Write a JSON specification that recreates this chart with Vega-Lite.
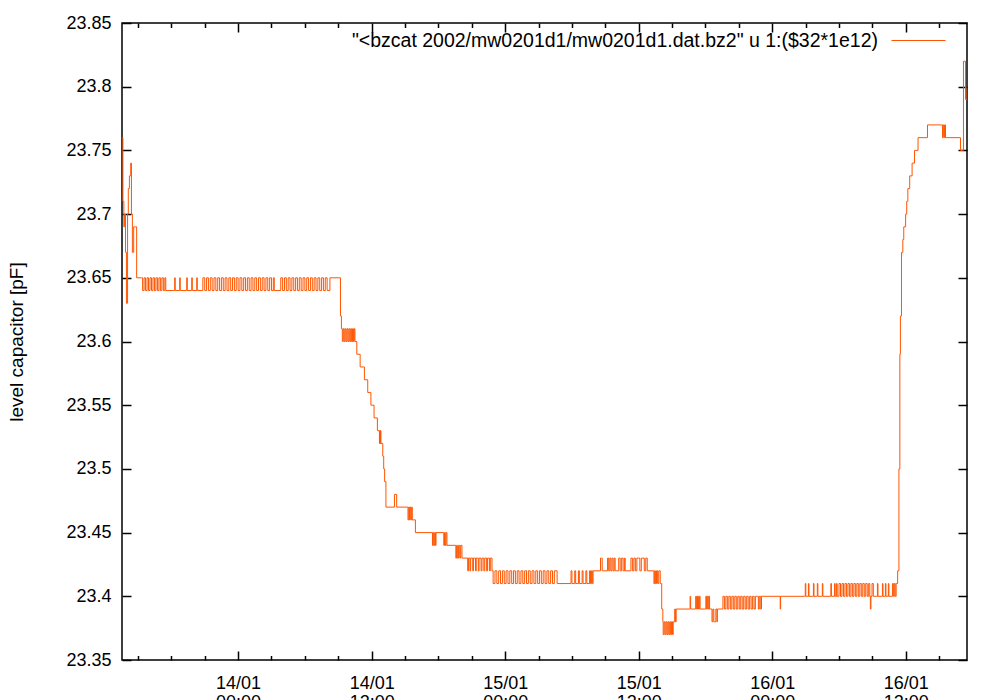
{
  "$schema": "https://vega.github.io/schema/vega-lite/v6.json",
  "width": 845,
  "height": 637,
  "autosize": {"type": "none"},
  "padding": {"left": 122, "top": 23, "right": 33, "bottom": 40},
  "background": "white",
  "config": {
    "view": {"stroke": "black", "strokeWidth": 1.5},
    "font": "Liberation Sans",
    "axis": {
      "grid": false,
      "domain": false,
      "tickColor": "black",
      "tickWidth": 1.5,
      "labelFont": "Liberation Sans",
      "labelFontSize": 18,
      "labelColor": "black",
      "titleFont": "Liberation Sans",
      "titleFontSize": 19,
      "titleFontWeight": "normal",
      "titleColor": "black"
    },
    "legend": {
      "labelFont": "Liberation Sans",
      "labelFontSize": 19.5,
      "labelColor": "black"
    }
  },
  "data": {
    "values": [
      {"t": "2002-01-13T13:35", "v": 23.76},
      {"t": "2002-01-13T13:39", "v": 23.71},
      {"t": "2002-01-13T13:44", "v": 23.69},
      {"t": "2002-01-13T13:48", "v": 23.70},
      {"t": "2002-01-13T13:53", "v": 23.67},
      {"t": "2002-01-13T13:58", "v": 23.63},
      {"t": "2002-01-13T14:04", "v": 23.70},
      {"t": "2002-01-13T14:08", "v": 23.72},
      {"t": "2002-01-13T14:14", "v": 23.73},
      {"t": "2002-01-13T14:21", "v": 23.74},
      {"t": "2002-01-13T14:25", "v": 23.70},
      {"t": "2002-01-13T14:30", "v": 23.67},
      {"t": "2002-01-13T14:37", "v": 23.69},
      {"t": "2002-01-13T14:47", "v": 23.69},
      {"t": "2002-01-13T14:53", "v": 23.65},
      {"t": "2002-01-13T15:20", "v": 23.65},
      {"t": "2002-01-13T15:25", "v": 23.64},
      {"t": "2002-01-13T15:33", "v": 23.65},
      {"t": "2002-01-13T15:41", "v": 23.64},
      {"t": "2002-01-13T15:49", "v": 23.65},
      {"t": "2002-01-13T15:57", "v": 23.64},
      {"t": "2002-01-13T16:05", "v": 23.65},
      {"t": "2002-01-13T16:13", "v": 23.64},
      {"t": "2002-01-13T16:21", "v": 23.65},
      {"t": "2002-01-13T16:29", "v": 23.64},
      {"t": "2002-01-13T16:37", "v": 23.65},
      {"t": "2002-01-13T16:45", "v": 23.64},
      {"t": "2002-01-13T16:53", "v": 23.65},
      {"t": "2002-01-13T17:01", "v": 23.64},
      {"t": "2002-01-13T17:09", "v": 23.65},
      {"t": "2002-01-13T17:17", "v": 23.64},
      {"t": "2002-01-13T17:25", "v": 23.65},
      {"t": "2002-01-13T17:30", "v": 23.64},
      {"t": "2002-01-13T18:15", "v": 23.64},
      {"t": "2002-01-13T18:18", "v": 23.65},
      {"t": "2002-01-13T18:21", "v": 23.64},
      {"t": "2002-01-13T18:42", "v": 23.64},
      {"t": "2002-01-13T18:45", "v": 23.65},
      {"t": "2002-01-13T18:48", "v": 23.64},
      {"t": "2002-01-13T19:20", "v": 23.64},
      {"t": "2002-01-13T19:23", "v": 23.65},
      {"t": "2002-01-13T19:26", "v": 23.64},
      {"t": "2002-01-13T19:47", "v": 23.64},
      {"t": "2002-01-13T19:50", "v": 23.65},
      {"t": "2002-01-13T19:53", "v": 23.64},
      {"t": "2002-01-13T20:14", "v": 23.64},
      {"t": "2002-01-13T20:17", "v": 23.65},
      {"t": "2002-01-13T20:20", "v": 23.64},
      {"t": "2002-01-13T20:45", "v": 23.64},
      {"t": "2002-01-13T20:50", "v": 23.65},
      {"t": "2002-01-13T21:00", "v": 23.64},
      {"t": "2002-01-13T21:10", "v": 23.65},
      {"t": "2002-01-13T21:20", "v": 23.64},
      {"t": "2002-01-13T21:30", "v": 23.65},
      {"t": "2002-01-13T21:40", "v": 23.64},
      {"t": "2002-01-13T21:50", "v": 23.65},
      {"t": "2002-01-13T22:00", "v": 23.64},
      {"t": "2002-01-13T22:10", "v": 23.65},
      {"t": "2002-01-13T22:20", "v": 23.64},
      {"t": "2002-01-13T22:30", "v": 23.65},
      {"t": "2002-01-13T22:40", "v": 23.64},
      {"t": "2002-01-13T22:50", "v": 23.65},
      {"t": "2002-01-13T23:00", "v": 23.64},
      {"t": "2002-01-13T23:10", "v": 23.65},
      {"t": "2002-01-13T23:20", "v": 23.64},
      {"t": "2002-01-13T23:30", "v": 23.65},
      {"t": "2002-01-13T23:40", "v": 23.64},
      {"t": "2002-01-13T23:50", "v": 23.65},
      {"t": "2002-01-14T00:00", "v": 23.64},
      {"t": "2002-01-14T00:10", "v": 23.65},
      {"t": "2002-01-14T00:20", "v": 23.64},
      {"t": "2002-01-14T00:30", "v": 23.65},
      {"t": "2002-01-14T00:40", "v": 23.64},
      {"t": "2002-01-14T00:50", "v": 23.65},
      {"t": "2002-01-14T01:00", "v": 23.64},
      {"t": "2002-01-14T01:10", "v": 23.65},
      {"t": "2002-01-14T01:20", "v": 23.64},
      {"t": "2002-01-14T01:30", "v": 23.65},
      {"t": "2002-01-14T01:40", "v": 23.64},
      {"t": "2002-01-14T01:50", "v": 23.65},
      {"t": "2002-01-14T02:00", "v": 23.64},
      {"t": "2002-01-14T02:10", "v": 23.65},
      {"t": "2002-01-14T02:20", "v": 23.64},
      {"t": "2002-01-14T02:30", "v": 23.65},
      {"t": "2002-01-14T02:40", "v": 23.64},
      {"t": "2002-01-14T02:50", "v": 23.65},
      {"t": "2002-01-14T03:00", "v": 23.64},
      {"t": "2002-01-14T03:10", "v": 23.65},
      {"t": "2002-01-14T03:15", "v": 23.64},
      {"t": "2002-01-14T03:40", "v": 23.64},
      {"t": "2002-01-14T03:50", "v": 23.65},
      {"t": "2002-01-14T04:00", "v": 23.64},
      {"t": "2002-01-14T04:10", "v": 23.65},
      {"t": "2002-01-14T04:20", "v": 23.64},
      {"t": "2002-01-14T04:30", "v": 23.65},
      {"t": "2002-01-14T04:40", "v": 23.64},
      {"t": "2002-01-14T04:50", "v": 23.65},
      {"t": "2002-01-14T05:00", "v": 23.64},
      {"t": "2002-01-14T05:10", "v": 23.65},
      {"t": "2002-01-14T05:20", "v": 23.64},
      {"t": "2002-01-14T05:30", "v": 23.65},
      {"t": "2002-01-14T05:40", "v": 23.64},
      {"t": "2002-01-14T05:50", "v": 23.65},
      {"t": "2002-01-14T06:00", "v": 23.64},
      {"t": "2002-01-14T06:10", "v": 23.65},
      {"t": "2002-01-14T06:20", "v": 23.64},
      {"t": "2002-01-14T06:30", "v": 23.65},
      {"t": "2002-01-14T06:40", "v": 23.64},
      {"t": "2002-01-14T06:50", "v": 23.65},
      {"t": "2002-01-14T07:00", "v": 23.64},
      {"t": "2002-01-14T07:10", "v": 23.65},
      {"t": "2002-01-14T07:20", "v": 23.64},
      {"t": "2002-01-14T07:30", "v": 23.65},
      {"t": "2002-01-14T07:40", "v": 23.64},
      {"t": "2002-01-14T07:50", "v": 23.65},
      {"t": "2002-01-14T08:00", "v": 23.64},
      {"t": "2002-01-14T08:10", "v": 23.64},
      {"t": "2002-01-14T08:15", "v": 23.65},
      {"t": "2002-01-14T09:03", "v": 23.65},
      {"t": "2002-01-14T09:12", "v": 23.62},
      {"t": "2002-01-14T09:17", "v": 23.61},
      {"t": "2002-01-14T09:22", "v": 23.60},
      {"t": "2002-01-14T09:27", "v": 23.61},
      {"t": "2002-01-14T09:32", "v": 23.60},
      {"t": "2002-01-14T09:37", "v": 23.61},
      {"t": "2002-01-14T09:42", "v": 23.60},
      {"t": "2002-01-14T09:47", "v": 23.61},
      {"t": "2002-01-14T09:52", "v": 23.60},
      {"t": "2002-01-14T09:57", "v": 23.61},
      {"t": "2002-01-14T10:02", "v": 23.60},
      {"t": "2002-01-14T10:07", "v": 23.61},
      {"t": "2002-01-14T10:12", "v": 23.60},
      {"t": "2002-01-14T10:17", "v": 23.61},
      {"t": "2002-01-14T10:22", "v": 23.60},
      {"t": "2002-01-14T10:26", "v": 23.61},
      {"t": "2002-01-14T10:30", "v": 23.60},
      {"t": "2002-01-14T10:39", "v": 23.60},
      {"t": "2002-01-14T10:40", "v": 23.59},
      {"t": "2002-01-14T10:57", "v": 23.59},
      {"t": "2002-01-14T10:58", "v": 23.58},
      {"t": "2002-01-14T11:20", "v": 23.58},
      {"t": "2002-01-14T11:21", "v": 23.57},
      {"t": "2002-01-14T11:38", "v": 23.57},
      {"t": "2002-01-14T11:39", "v": 23.56},
      {"t": "2002-01-14T11:55", "v": 23.56},
      {"t": "2002-01-14T11:56", "v": 23.55},
      {"t": "2002-01-14T12:12", "v": 23.55},
      {"t": "2002-01-14T12:13", "v": 23.54},
      {"t": "2002-01-14T12:30", "v": 23.54},
      {"t": "2002-01-14T12:31", "v": 23.53},
      {"t": "2002-01-14T12:40", "v": 23.53},
      {"t": "2002-01-14T12:42", "v": 23.52},
      {"t": "2002-01-14T12:44", "v": 23.53},
      {"t": "2002-01-14T12:46", "v": 23.52},
      {"t": "2002-01-14T12:48", "v": 23.53},
      {"t": "2002-01-14T12:50", "v": 23.52},
      {"t": "2002-01-14T13:00", "v": 23.51},
      {"t": "2002-01-14T13:05", "v": 23.50},
      {"t": "2002-01-14T13:10", "v": 23.49},
      {"t": "2002-01-14T13:17", "v": 23.47},
      {"t": "2002-01-14T14:02", "v": 23.47},
      {"t": "2002-01-14T14:03", "v": 23.48},
      {"t": "2002-01-14T14:14", "v": 23.48},
      {"t": "2002-01-14T14:15", "v": 23.47},
      {"t": "2002-01-14T15:12", "v": 23.47},
      {"t": "2002-01-14T15:16", "v": 23.46},
      {"t": "2002-01-14T15:20", "v": 23.47},
      {"t": "2002-01-14T15:24", "v": 23.46},
      {"t": "2002-01-14T15:28", "v": 23.47},
      {"t": "2002-01-14T15:32", "v": 23.46},
      {"t": "2002-01-14T15:36", "v": 23.47},
      {"t": "2002-01-14T15:39", "v": 23.46},
      {"t": "2002-01-14T15:55", "v": 23.46},
      {"t": "2002-01-14T15:56", "v": 23.45},
      {"t": "2002-01-14T17:25", "v": 23.45},
      {"t": "2002-01-14T17:28", "v": 23.44},
      {"t": "2002-01-14T17:32", "v": 23.45},
      {"t": "2002-01-14T17:36", "v": 23.44},
      {"t": "2002-01-14T17:40", "v": 23.45},
      {"t": "2002-01-14T17:44", "v": 23.44},
      {"t": "2002-01-14T17:47", "v": 23.45},
      {"t": "2002-01-14T18:25", "v": 23.45},
      {"t": "2002-01-14T18:29", "v": 23.44},
      {"t": "2002-01-14T18:33", "v": 23.45},
      {"t": "2002-01-14T18:37", "v": 23.44},
      {"t": "2002-01-14T18:41", "v": 23.45},
      {"t": "2002-01-14T18:46", "v": 23.44},
      {"t": "2002-01-14T19:30", "v": 23.44},
      {"t": "2002-01-14T19:34", "v": 23.43},
      {"t": "2002-01-14T19:38", "v": 23.44},
      {"t": "2002-01-14T19:42", "v": 23.43},
      {"t": "2002-01-14T19:48", "v": 23.44},
      {"t": "2002-01-14T19:55", "v": 23.43},
      {"t": "2002-01-14T20:00", "v": 23.44},
      {"t": "2002-01-14T20:07", "v": 23.43},
      {"t": "2002-01-14T20:34", "v": 23.43},
      {"t": "2002-01-14T20:38", "v": 23.42},
      {"t": "2002-01-14T20:42", "v": 23.43},
      {"t": "2002-01-14T20:50", "v": 23.42},
      {"t": "2002-01-14T20:54", "v": 23.43},
      {"t": "2002-01-14T21:05", "v": 23.42},
      {"t": "2002-01-14T21:09", "v": 23.43},
      {"t": "2002-01-14T21:20", "v": 23.42},
      {"t": "2002-01-14T21:24", "v": 23.43},
      {"t": "2002-01-14T21:35", "v": 23.42},
      {"t": "2002-01-14T21:39", "v": 23.43},
      {"t": "2002-01-14T21:50", "v": 23.42},
      {"t": "2002-01-14T21:55", "v": 23.43},
      {"t": "2002-01-14T22:05", "v": 23.42},
      {"t": "2002-01-14T22:10", "v": 23.43},
      {"t": "2002-01-14T22:20", "v": 23.42},
      {"t": "2002-01-14T22:25", "v": 23.43},
      {"t": "2002-01-14T22:35", "v": 23.42},
      {"t": "2002-01-14T22:40", "v": 23.43},
      {"t": "2002-01-14T22:49", "v": 23.42},
      {"t": "2002-01-14T22:55", "v": 23.41},
      {"t": "2002-01-14T23:05", "v": 23.42},
      {"t": "2002-01-14T23:15", "v": 23.41},
      {"t": "2002-01-14T23:25", "v": 23.42},
      {"t": "2002-01-14T23:35", "v": 23.41},
      {"t": "2002-01-14T23:45", "v": 23.42},
      {"t": "2002-01-14T23:55", "v": 23.41},
      {"t": "2002-01-15T00:05", "v": 23.42},
      {"t": "2002-01-15T00:15", "v": 23.41},
      {"t": "2002-01-15T00:25", "v": 23.42},
      {"t": "2002-01-15T00:35", "v": 23.41},
      {"t": "2002-01-15T00:45", "v": 23.42},
      {"t": "2002-01-15T00:55", "v": 23.41},
      {"t": "2002-01-15T01:05", "v": 23.42},
      {"t": "2002-01-15T01:15", "v": 23.41},
      {"t": "2002-01-15T01:25", "v": 23.42},
      {"t": "2002-01-15T01:35", "v": 23.41},
      {"t": "2002-01-15T01:45", "v": 23.42},
      {"t": "2002-01-15T01:55", "v": 23.41},
      {"t": "2002-01-15T02:05", "v": 23.42},
      {"t": "2002-01-15T02:15", "v": 23.41},
      {"t": "2002-01-15T02:25", "v": 23.42},
      {"t": "2002-01-15T02:35", "v": 23.41},
      {"t": "2002-01-15T02:45", "v": 23.42},
      {"t": "2002-01-15T02:55", "v": 23.41},
      {"t": "2002-01-15T03:05", "v": 23.42},
      {"t": "2002-01-15T03:15", "v": 23.41},
      {"t": "2002-01-15T03:25", "v": 23.42},
      {"t": "2002-01-15T03:35", "v": 23.41},
      {"t": "2002-01-15T03:45", "v": 23.42},
      {"t": "2002-01-15T03:55", "v": 23.41},
      {"t": "2002-01-15T04:05", "v": 23.42},
      {"t": "2002-01-15T04:15", "v": 23.41},
      {"t": "2002-01-15T04:25", "v": 23.42},
      {"t": "2002-01-15T04:40", "v": 23.41},
      {"t": "2002-01-15T05:50", "v": 23.41},
      {"t": "2002-01-15T05:55", "v": 23.42},
      {"t": "2002-01-15T06:00", "v": 23.41},
      {"t": "2002-01-15T06:15", "v": 23.42},
      {"t": "2002-01-15T06:20", "v": 23.41},
      {"t": "2002-01-15T06:35", "v": 23.42},
      {"t": "2002-01-15T06:40", "v": 23.41},
      {"t": "2002-01-15T06:55", "v": 23.42},
      {"t": "2002-01-15T07:00", "v": 23.41},
      {"t": "2002-01-15T07:15", "v": 23.42},
      {"t": "2002-01-15T07:20", "v": 23.41},
      {"t": "2002-01-15T07:35", "v": 23.42},
      {"t": "2002-01-15T07:40", "v": 23.41},
      {"t": "2002-01-15T07:45", "v": 23.42},
      {"t": "2002-01-15T07:50", "v": 23.41},
      {"t": "2002-01-15T07:54", "v": 23.42},
      {"t": "2002-01-15T08:32", "v": 23.42},
      {"t": "2002-01-15T08:34", "v": 23.43},
      {"t": "2002-01-15T08:40", "v": 23.43},
      {"t": "2002-01-15T08:43", "v": 23.42},
      {"t": "2002-01-15T09:10", "v": 23.42},
      {"t": "2002-01-15T09:12", "v": 23.43},
      {"t": "2002-01-15T09:18", "v": 23.42},
      {"t": "2002-01-15T09:24", "v": 23.43},
      {"t": "2002-01-15T09:30", "v": 23.42},
      {"t": "2002-01-15T09:36", "v": 23.43},
      {"t": "2002-01-15T09:42", "v": 23.42},
      {"t": "2002-01-15T09:48", "v": 23.43},
      {"t": "2002-01-15T09:53", "v": 23.42},
      {"t": "2002-01-15T10:09", "v": 23.42},
      {"t": "2002-01-15T10:12", "v": 23.43},
      {"t": "2002-01-15T10:20", "v": 23.42},
      {"t": "2002-01-15T10:28", "v": 23.43},
      {"t": "2002-01-15T10:36", "v": 23.42},
      {"t": "2002-01-15T10:44", "v": 23.43},
      {"t": "2002-01-15T10:47", "v": 23.42},
      {"t": "2002-01-15T11:14", "v": 23.42},
      {"t": "2002-01-15T11:18", "v": 23.43},
      {"t": "2002-01-15T11:26", "v": 23.42},
      {"t": "2002-01-15T11:34", "v": 23.43},
      {"t": "2002-01-15T11:42", "v": 23.42},
      {"t": "2002-01-15T11:50", "v": 23.43},
      {"t": "2002-01-15T11:58", "v": 23.43},
      {"t": "2002-01-15T12:06", "v": 23.42},
      {"t": "2002-01-15T12:14", "v": 23.43},
      {"t": "2002-01-15T12:22", "v": 23.43},
      {"t": "2002-01-15T12:30", "v": 23.42},
      {"t": "2002-01-15T12:38", "v": 23.43},
      {"t": "2002-01-15T12:46", "v": 23.42},
      {"t": "2002-01-15T13:18", "v": 23.42},
      {"t": "2002-01-15T13:22", "v": 23.41},
      {"t": "2002-01-15T13:26", "v": 23.42},
      {"t": "2002-01-15T13:30", "v": 23.41},
      {"t": "2002-01-15T13:36", "v": 23.42},
      {"t": "2002-01-15T13:42", "v": 23.41},
      {"t": "2002-01-15T13:48", "v": 23.42},
      {"t": "2002-01-15T13:56", "v": 23.41},
      {"t": "2002-01-15T14:04", "v": 23.39},
      {"t": "2002-01-15T14:10", "v": 23.38},
      {"t": "2002-01-15T14:12", "v": 23.37},
      {"t": "2002-01-15T14:17", "v": 23.38},
      {"t": "2002-01-15T14:22", "v": 23.37},
      {"t": "2002-01-15T14:27", "v": 23.38},
      {"t": "2002-01-15T14:32", "v": 23.37},
      {"t": "2002-01-15T14:37", "v": 23.38},
      {"t": "2002-01-15T14:42", "v": 23.37},
      {"t": "2002-01-15T14:47", "v": 23.38},
      {"t": "2002-01-15T14:52", "v": 23.37},
      {"t": "2002-01-15T14:57", "v": 23.38},
      {"t": "2002-01-15T15:02", "v": 23.37},
      {"t": "2002-01-15T15:06", "v": 23.38},
      {"t": "2002-01-15T15:10", "v": 23.38},
      {"t": "2002-01-15T15:14", "v": 23.39},
      {"t": "2002-01-15T15:18", "v": 23.38},
      {"t": "2002-01-15T15:22", "v": 23.39},
      {"t": "2002-01-15T16:35", "v": 23.39},
      {"t": "2002-01-15T16:37", "v": 23.40},
      {"t": "2002-01-15T16:40", "v": 23.39},
      {"t": "2002-01-15T17:04", "v": 23.39},
      {"t": "2002-01-15T17:07", "v": 23.40},
      {"t": "2002-01-15T17:12", "v": 23.39},
      {"t": "2002-01-15T17:17", "v": 23.40},
      {"t": "2002-01-15T17:22", "v": 23.39},
      {"t": "2002-01-15T17:27", "v": 23.40},
      {"t": "2002-01-15T17:31", "v": 23.39},
      {"t": "2002-01-15T17:58", "v": 23.39},
      {"t": "2002-01-15T18:02", "v": 23.40},
      {"t": "2002-01-15T18:06", "v": 23.39},
      {"t": "2002-01-15T18:10", "v": 23.40},
      {"t": "2002-01-15T18:14", "v": 23.39},
      {"t": "2002-01-15T18:18", "v": 23.40},
      {"t": "2002-01-15T18:22", "v": 23.39},
      {"t": "2002-01-15T18:30", "v": 23.39},
      {"t": "2002-01-15T18:35", "v": 23.38},
      {"t": "2002-01-15T18:40", "v": 23.39},
      {"t": "2002-01-15T18:45", "v": 23.38},
      {"t": "2002-01-15T18:50", "v": 23.38},
      {"t": "2002-01-15T18:56", "v": 23.39},
      {"t": "2002-01-15T19:02", "v": 23.38},
      {"t": "2002-01-15T19:04", "v": 23.39},
      {"t": "2002-01-15T19:30", "v": 23.39},
      {"t": "2002-01-15T19:34", "v": 23.40},
      {"t": "2002-01-15T19:42", "v": 23.39},
      {"t": "2002-01-15T19:50", "v": 23.40},
      {"t": "2002-01-15T19:58", "v": 23.39},
      {"t": "2002-01-15T20:06", "v": 23.40},
      {"t": "2002-01-15T20:14", "v": 23.39},
      {"t": "2002-01-15T20:22", "v": 23.40},
      {"t": "2002-01-15T20:30", "v": 23.39},
      {"t": "2002-01-15T20:38", "v": 23.40},
      {"t": "2002-01-15T20:46", "v": 23.39},
      {"t": "2002-01-15T20:54", "v": 23.40},
      {"t": "2002-01-15T21:02", "v": 23.39},
      {"t": "2002-01-15T21:10", "v": 23.40},
      {"t": "2002-01-15T21:18", "v": 23.39},
      {"t": "2002-01-15T21:26", "v": 23.40},
      {"t": "2002-01-15T21:34", "v": 23.39},
      {"t": "2002-01-15T21:42", "v": 23.40},
      {"t": "2002-01-15T21:50", "v": 23.39},
      {"t": "2002-01-15T21:58", "v": 23.40},
      {"t": "2002-01-15T22:06", "v": 23.39},
      {"t": "2002-01-15T22:14", "v": 23.40},
      {"t": "2002-01-15T22:22", "v": 23.39},
      {"t": "2002-01-15T22:29", "v": 23.40},
      {"t": "2002-01-15T22:40", "v": 23.40},
      {"t": "2002-01-15T22:45", "v": 23.39},
      {"t": "2002-01-15T22:50", "v": 23.40},
      {"t": "2002-01-15T22:58", "v": 23.39},
      {"t": "2002-01-15T23:02", "v": 23.40},
      {"t": "2002-01-16T00:41", "v": 23.40},
      {"t": "2002-01-16T00:43", "v": 23.39},
      {"t": "2002-01-16T00:45", "v": 23.40},
      {"t": "2002-01-16T02:55", "v": 23.40},
      {"t": "2002-01-16T02:58", "v": 23.41},
      {"t": "2002-01-16T03:01", "v": 23.40},
      {"t": "2002-01-16T03:12", "v": 23.40},
      {"t": "2002-01-16T03:15", "v": 23.41},
      {"t": "2002-01-16T03:18", "v": 23.40},
      {"t": "2002-01-16T03:39", "v": 23.40},
      {"t": "2002-01-16T03:42", "v": 23.41},
      {"t": "2002-01-16T03:45", "v": 23.40},
      {"t": "2002-01-16T04:00", "v": 23.40},
      {"t": "2002-01-16T04:03", "v": 23.41},
      {"t": "2002-01-16T04:06", "v": 23.40},
      {"t": "2002-01-16T04:27", "v": 23.40},
      {"t": "2002-01-16T04:30", "v": 23.41},
      {"t": "2002-01-16T04:33", "v": 23.40},
      {"t": "2002-01-16T05:13", "v": 23.40},
      {"t": "2002-01-16T05:16", "v": 23.41},
      {"t": "2002-01-16T05:19", "v": 23.40},
      {"t": "2002-01-16T05:33", "v": 23.40},
      {"t": "2002-01-16T05:36", "v": 23.41},
      {"t": "2002-01-16T05:39", "v": 23.40},
      {"t": "2002-01-16T05:44", "v": 23.40},
      {"t": "2002-01-16T05:47", "v": 23.41},
      {"t": "2002-01-16T05:50", "v": 23.40},
      {"t": "2002-01-16T05:56", "v": 23.40},
      {"t": "2002-01-16T06:00", "v": 23.41},
      {"t": "2002-01-16T06:08", "v": 23.40},
      {"t": "2002-01-16T06:16", "v": 23.41},
      {"t": "2002-01-16T06:24", "v": 23.40},
      {"t": "2002-01-16T06:32", "v": 23.41},
      {"t": "2002-01-16T06:40", "v": 23.40},
      {"t": "2002-01-16T06:48", "v": 23.41},
      {"t": "2002-01-16T06:56", "v": 23.40},
      {"t": "2002-01-16T07:04", "v": 23.41},
      {"t": "2002-01-16T07:12", "v": 23.40},
      {"t": "2002-01-16T07:20", "v": 23.41},
      {"t": "2002-01-16T07:28", "v": 23.40},
      {"t": "2002-01-16T07:36", "v": 23.41},
      {"t": "2002-01-16T07:44", "v": 23.40},
      {"t": "2002-01-16T07:52", "v": 23.41},
      {"t": "2002-01-16T08:00", "v": 23.40},
      {"t": "2002-01-16T08:08", "v": 23.41},
      {"t": "2002-01-16T08:16", "v": 23.40},
      {"t": "2002-01-16T08:24", "v": 23.41},
      {"t": "2002-01-16T08:32", "v": 23.40},
      {"t": "2002-01-16T08:40", "v": 23.41},
      {"t": "2002-01-16T08:46", "v": 23.40},
      {"t": "2002-01-16T08:49", "v": 23.39},
      {"t": "2002-01-16T08:52", "v": 23.40},
      {"t": "2002-01-16T08:58", "v": 23.41},
      {"t": "2002-01-16T09:05", "v": 23.40},
      {"t": "2002-01-16T09:24", "v": 23.40},
      {"t": "2002-01-16T09:27", "v": 23.41},
      {"t": "2002-01-16T09:30", "v": 23.40},
      {"t": "2002-01-16T09:51", "v": 23.40},
      {"t": "2002-01-16T09:54", "v": 23.41},
      {"t": "2002-01-16T09:57", "v": 23.40},
      {"t": "2002-01-16T10:07", "v": 23.40},
      {"t": "2002-01-16T10:10", "v": 23.41},
      {"t": "2002-01-16T10:13", "v": 23.40},
      {"t": "2002-01-16T10:23", "v": 23.40},
      {"t": "2002-01-16T10:26", "v": 23.41},
      {"t": "2002-01-16T10:29", "v": 23.40},
      {"t": "2002-01-16T10:45", "v": 23.40},
      {"t": "2002-01-16T10:48", "v": 23.41},
      {"t": "2002-01-16T10:53", "v": 23.40},
      {"t": "2002-01-16T10:58", "v": 23.41},
      {"t": "2002-01-16T11:03", "v": 23.40},
      {"t": "2002-01-16T11:08", "v": 23.41},
      {"t": "2002-01-16T11:12", "v": 23.41},
      {"t": "2002-01-16T11:16", "v": 23.42},
      {"t": "2002-01-16T11:18", "v": 23.42},
      {"t": "2002-01-16T11:23", "v": 23.50},
      {"t": "2002-01-16T11:28", "v": 23.59},
      {"t": "2002-01-16T11:31", "v": 23.62},
      {"t": "2002-01-16T11:37", "v": 23.67},
      {"t": "2002-01-16T11:44", "v": 23.68},
      {"t": "2002-01-16T11:49", "v": 23.69},
      {"t": "2002-01-16T11:58", "v": 23.69},
      {"t": "2002-01-16T11:59", "v": 23.70},
      {"t": "2002-01-16T12:04", "v": 23.70},
      {"t": "2002-01-16T12:05", "v": 23.71},
      {"t": "2002-01-16T12:10", "v": 23.71},
      {"t": "2002-01-16T12:11", "v": 23.72},
      {"t": "2002-01-16T12:20", "v": 23.72},
      {"t": "2002-01-16T12:21", "v": 23.73},
      {"t": "2002-01-16T12:33", "v": 23.73},
      {"t": "2002-01-16T12:34", "v": 23.74},
      {"t": "2002-01-16T12:46", "v": 23.74},
      {"t": "2002-01-16T12:47", "v": 23.75},
      {"t": "2002-01-16T13:05", "v": 23.75},
      {"t": "2002-01-16T13:06", "v": 23.76},
      {"t": "2002-01-16T13:55", "v": 23.76},
      {"t": "2002-01-16T13:57", "v": 23.77},
      {"t": "2002-01-16T15:15", "v": 23.77},
      {"t": "2002-01-16T15:18", "v": 23.76},
      {"t": "2002-01-16T15:21", "v": 23.77},
      {"t": "2002-01-16T15:25", "v": 23.76},
      {"t": "2002-01-16T15:29", "v": 23.77},
      {"t": "2002-01-16T15:34", "v": 23.76},
      {"t": "2002-01-16T16:54", "v": 23.76},
      {"t": "2002-01-16T16:55", "v": 23.75},
      {"t": "2002-01-16T17:05", "v": 23.75},
      {"t": "2002-01-16T17:11", "v": 23.82},
      {"t": "2002-01-16T17:22", "v": 23.79},
      {"t": "2002-01-16T17:30", "v": 23.80}
    ]
  },
  "layer": [
    {
      "mark": {"type": "line", "strokeWidth": 1, "clip": true, "interpolate": "step-after"},
      "encoding": {
        "x": {
          "field": "t", "type": "temporal",
          "scale": {"domain": [{"year": 2002, "month": 1, "date": 13, "hours": 13, "minutes": 34}, {"year": 2002, "month": 1, "date": 16, "hours": 17, "minutes": 30}]},
          "axis": {
            "orient": "bottom",
            "title": null,
            "values": [
              {"year": 2002, "month": 1, "date": 14, "hours": 0},
              {"year": 2002, "month": 1, "date": 14, "hours": 12},
              {"year": 2002, "month": 1, "date": 15, "hours": 0},
              {"year": 2002, "month": 1, "date": 15, "hours": 12},
              {"year": 2002, "month": 1, "date": 16, "hours": 0},
              {"year": 2002, "month": 1, "date": 16, "hours": 12}
            ],
            "tickSize": -9,
            "labelPadding": 23,
            "labelLineHeight": 19,
            "labelExpr": "[timeFormat(datum.value, '%d/%m'), timeFormat(datum.value, '%H:%M')]"
          }
        },
        "y": {
          "field": "v", "type": "quantitative",
          "scale": {"domain": [23.35, 23.85], "zero": false, "nice": false},
          "axis": {
            "orient": "left",
            "values": [23.35, 23.4, 23.45, 23.5, 23.55, 23.6, 23.65, 23.7, 23.75, 23.8, 23.85],
            "format": ".4~g",
            "tickSize": -9,
            "labelPadding": 20,
            "title": "level capacitor [pF]",
            "titlePadding": 39
          }
        },
        "color": {
          "datum": "\"<bzcat 2002/mw0201d1/mw0201d1.dat.bz2\" u 1:($32*1e12)",
          "type": "nominal",
          "scale": {"range": ["#ff5500"]},
          "legend": {
            "title": null,
            "orient": "none",
            "legendX": 769,
            "legendY": -10,
            "padding": 0,
            "symbolType": "stroke",
            "symbolSize": 2916,
            "symbolStrokeWidth": 1,
            "labelLimit": 1000,
            "labelAlign": "right",
            "labelOffset": -68
          }
        }
      }
    },
    {
      "mark": {"type": "line", "opacity": 0},
      "encoding": {
        "x": {
          "field": "t", "type": "temporal",
          "scale": {"domain": [{"year": 2002, "month": 1, "date": 13, "hours": 13, "minutes": 34}, {"year": 2002, "month": 1, "date": 16, "hours": 17, "minutes": 30}]},
          "axis": {
            "orient": "top", "title": null, "labels": false, "tickSize": -9,
            "values": [
              {"year": 2002, "month": 1, "date": 14, "hours": 0},
              {"year": 2002, "month": 1, "date": 14, "hours": 12},
              {"year": 2002, "month": 1, "date": 15, "hours": 0},
              {"year": 2002, "month": 1, "date": 15, "hours": 12},
              {"year": 2002, "month": 1, "date": 16, "hours": 0},
              {"year": 2002, "month": 1, "date": 16, "hours": 12}
            ]
          }
        },
        "y": {
          "field": "v", "type": "quantitative",
          "scale": {"domain": [23.35, 23.85], "zero": false, "nice": false},
          "axis": {
            "orient": "right", "title": null, "labels": false, "tickSize": -9,
            "values": [23.35, 23.4, 23.45, 23.5, 23.55, 23.6, 23.65, 23.7, 23.75, 23.8, 23.85]
          }
        }
      }
    },
    {
      "mark": {"type": "line", "opacity": 0},
      "encoding": {
        "x": {
          "field": "t", "type": "temporal",
          "scale": {"domain": [{"year": 2002, "month": 1, "date": 13, "hours": 13, "minutes": 34}, {"year": 2002, "month": 1, "date": 16, "hours": 17, "minutes": 30}]},
          "axis": {
            "orient": "bottom", "title": null, "labels": false, "tickSize": -4.5,
            "values": [
              {"year": 2002, "month": 1, "date": 13, "hours": 15},
              {"year": 2002, "month": 1, "date": 13, "hours": 18},
              {"year": 2002, "month": 1, "date": 13, "hours": 21},
              {"year": 2002, "month": 1, "date": 14, "hours": 3},
              {"year": 2002, "month": 1, "date": 14, "hours": 6},
              {"year": 2002, "month": 1, "date": 14, "hours": 9},
              {"year": 2002, "month": 1, "date": 14, "hours": 15},
              {"year": 2002, "month": 1, "date": 14, "hours": 18},
              {"year": 2002, "month": 1, "date": 14, "hours": 21},
              {"year": 2002, "month": 1, "date": 15, "hours": 3},
              {"year": 2002, "month": 1, "date": 15, "hours": 6},
              {"year": 2002, "month": 1, "date": 15, "hours": 9},
              {"year": 2002, "month": 1, "date": 15, "hours": 15},
              {"year": 2002, "month": 1, "date": 15, "hours": 18},
              {"year": 2002, "month": 1, "date": 15, "hours": 21},
              {"year": 2002, "month": 1, "date": 16, "hours": 3},
              {"year": 2002, "month": 1, "date": 16, "hours": 6},
              {"year": 2002, "month": 1, "date": 16, "hours": 9},
              {"year": 2002, "month": 1, "date": 16, "hours": 15}
            ]
          }
        },
        "y": {
          "field": "v", "type": "quantitative",
          "scale": {"domain": [23.35, 23.85], "zero": false, "nice": false},
          "axis": null
        }
      }
    },
    {
      "mark": {"type": "line", "opacity": 0},
      "encoding": {
        "x": {
          "field": "t", "type": "temporal",
          "scale": {"domain": [{"year": 2002, "month": 1, "date": 13, "hours": 13, "minutes": 34}, {"year": 2002, "month": 1, "date": 16, "hours": 17, "minutes": 30}]},
          "axis": {
            "orient": "top", "title": null, "labels": false, "tickSize": -4.5,
            "values": [
              {"year": 2002, "month": 1, "date": 13, "hours": 15},
              {"year": 2002, "month": 1, "date": 13, "hours": 18},
              {"year": 2002, "month": 1, "date": 13, "hours": 21},
              {"year": 2002, "month": 1, "date": 14, "hours": 3},
              {"year": 2002, "month": 1, "date": 14, "hours": 6},
              {"year": 2002, "month": 1, "date": 14, "hours": 9},
              {"year": 2002, "month": 1, "date": 14, "hours": 15},
              {"year": 2002, "month": 1, "date": 14, "hours": 18},
              {"year": 2002, "month": 1, "date": 14, "hours": 21},
              {"year": 2002, "month": 1, "date": 15, "hours": 3},
              {"year": 2002, "month": 1, "date": 15, "hours": 6},
              {"year": 2002, "month": 1, "date": 15, "hours": 9},
              {"year": 2002, "month": 1, "date": 15, "hours": 15},
              {"year": 2002, "month": 1, "date": 15, "hours": 18},
              {"year": 2002, "month": 1, "date": 15, "hours": 21},
              {"year": 2002, "month": 1, "date": 16, "hours": 3},
              {"year": 2002, "month": 1, "date": 16, "hours": 6},
              {"year": 2002, "month": 1, "date": 16, "hours": 9},
              {"year": 2002, "month": 1, "date": 16, "hours": 15}
            ]
          }
        },
        "y": {
          "field": "v", "type": "quantitative",
          "scale": {"domain": [23.35, 23.85], "zero": false, "nice": false},
          "axis": null
        }
      }
    }
  ],
  "resolve": {"axis": {"x": "independent", "y": "independent"}}
}
